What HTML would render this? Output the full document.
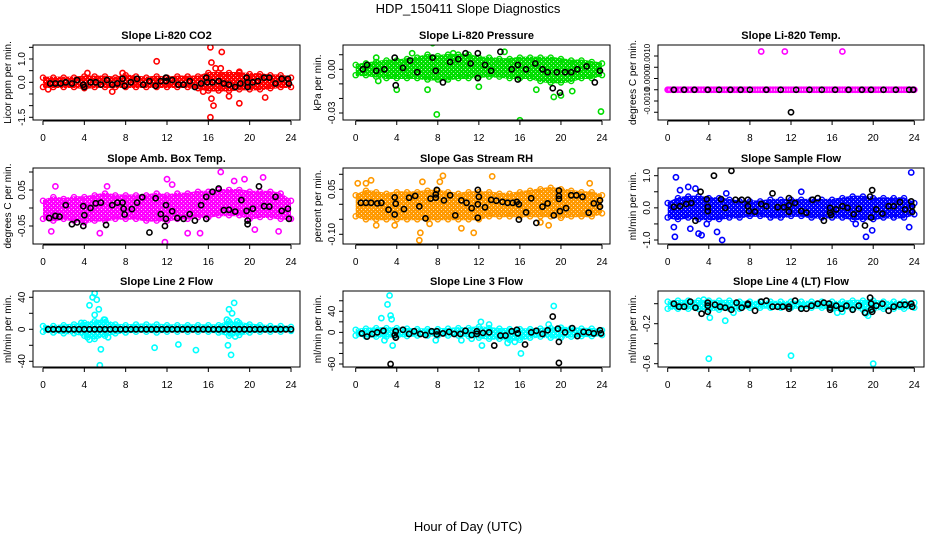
<!DOCTYPE html>
<html><head><meta charset="utf-8"><style>
body{margin:0;background:#fff;}
svg{display:block;font-family:"Liberation Sans",sans-serif;}
</style></head><body>
<svg id="chart" width="936" height="540" viewBox="0 0 936 540">
<defs id="defs"></defs>
<text x="468" y="13" text-anchor="middle" font-size="13">HDP_150411  Slope Diagnostics</text>
<text x="468" y="531" text-anchor="middle" font-size="13">Hour of Day (UTC)</text>
</svg>
<script>
// ---- data ----
const hours = [0,1,2,3,4,5,6,7,8,9,10,11,12,13,14,15,16,17,18,19,20,21,22,23,24];
const xTicks = [0,4,8,12,16,20,24];

const co2Lo = [-0.2,-0.2,-0.2,-0.2,-0.25,-0.2,-0.2,-0.2,-0.2,-0.2,-0.2,-0.2,-0.2,-0.2,-0.2,-0.25,-0.35,-0.35,-0.35,-0.3,-0.3,-0.3,-0.25,-0.2,-0.2];
const co2Hi = [0.2,0.2,0.2,0.2,0.25,0.25,0.25,0.2,0.3,0.25,0.2,0.25,0.2,0.25,0.25,0.25,0.4,0.4,0.4,0.4,0.35,0.35,0.3,0.3,0.2];
const co2Out = [[11,0.9],[16.2,1.5],[16.3,0.85],[17.3,1.3],[16.7,0.6],[17.2,0.6],[16.2,-1.5],[16.3,-0.7],[16.5,-1.0],[18,-0.6],[19,-0.9],[21.5,-0.65],[6.7,-0.4],[19,0.45],[0.5,-0.3],[7.7,0.4],[4.3,0.4],[15.5,-0.4]];
const co2Blk = [[0.7,-0.05],[1.2,-0.05],[1.7,-0.05],[2.2,0],[2.8,-0.05],[3.3,0.1],[3.9,-0.1],[4,-0.2],[4.6,0],[5.1,0],[5.6,-0.1],[6.2,0.1],[6.7,-0.1],[7.2,-0.05],[7.7,0.15],[7.9,-0.15],[8.5,0],[9.1,0.15],[9.7,-0.1],[10.3,0.05],[10.9,-0.15],[11.4,0.05],[11.9,0.05],[11.9,0.2],[12.5,0.1],[13.1,-0.1],[13.6,-0.1],[14.2,0.05],[14.7,-0.2],[15.3,-0.05],[15.8,0.2],[15.9,0],[16.4,0],[17,0.05],[17.5,-0.05],[18,-0.1],[18.6,-0.2],[19.1,-0.05],[19.7,0.2],[19.8,0],[19.8,-0.2],[20.3,0],[20.8,0.05],[21.4,0.2],[21.9,0.2],[22.5,-0.05],[23.1,0.15],[23.7,0.15],[23.8,-0.05]];

const prLo = [-0.004,-0.004,-0.005,-0.006,-0.006,-0.006,-0.006,-0.007,-0.007,-0.007,-0.006,-0.006,-0.005,-0.005,-0.005,-0.006,-0.006,-0.006,-0.008,-0.009,-0.009,-0.008,-0.006,-0.006,-0.004];
const prHi = [0.003,0.004,0.005,0.006,0.006,0.007,0.008,0.01,0.009,0.01,0.01,0.01,0.008,0.008,0.007,0.007,0.008,0.008,0.008,0.008,0.007,0.006,0.006,0.005,0.004];
const prOut = [[7.5,0.018],[21,0.02],[7.9,-0.031],[16,-0.035],[23.9,-0.029],[17.6,-0.014],[19.3,-0.019],[4,-0.014],[7,-0.014],[2.2,-0.008],[14.5,0.012],[9.5,0.011],[20,-0.018],[21.1,-0.015],[12,-0.012],[5.5,0.011],[2,0.008]];
const prBlk = [[0.7,0],[1.1,0.003],[2,-0.001],[2.8,0],[3.8,0.008],[3.9,-0.011],[4.6,0.001],[5.3,0.006],[6,-0.002],[7.5,0.008],[7.8,-0.001],[8.5,-0.009],[9.2,0.005],[10,0.007],[10.7,0.011],[11.2,0.004],[11.9,0.011],[11.9,-0.006],[12.6,0.003],[13.2,-0.001],[14.1,0.012],[15.2,0],[15.8,0.003],[15.8,-0.007],[16.6,0],[17.5,0.004],[18.2,0],[18.7,-0.002],[19.2,-0.013],[19.6,-0.002],[19.9,-0.016],[20.4,-0.002],[21,-0.002],[21.6,0],[22.5,0.002],[23.3,-0.009],[23.8,-0.001]];

const tLo = [-0.0005,-0.0005,-0.0005,-0.0005,-0.0005,-0.0005,-0.0005,-0.0005,-0.0005,-0.0005,-0.0005,-0.0005,-0.0005,-0.0005,-0.0005,-0.0005,-0.0005,-0.0005,-0.0005,-0.0005,-0.0005,-0.0005,-0.0005,-0.0005,-0.0005];
const tHi = tLo;
const tOut = [[9.1,0.0012],[11.4,0.0012],[13.3,0.0017],[17,0.0012],[0.1,-0.0005]];
const tBlk = [[0.6,-0.0005],[1.6,-0.0005],[2.6,-0.0005],[3.9,-0.0005],[5,-0.0005],[6.1,-0.0005],[7.1,-0.0005],[8,-0.0005],[9.6,-0.0005],[11,-0.0005],[12,-0.0015],[12.5,-0.0005],[13.8,-0.0005],[15,-0.0005],[16.3,-0.0005],[17.6,-0.0005],[18.9,-0.0005],[19.8,-0.0005],[21,-0.0005],[22.2,-0.0005],[23.5,-0.0005],[23.9,-0.0005]];

const abLo = [-0.03,-0.035,-0.03,-0.035,-0.04,-0.035,-0.035,-0.03,-0.03,-0.03,-0.035,-0.035,-0.035,-0.03,-0.03,-0.025,-0.025,-0.02,-0.02,-0.02,-0.03,-0.025,-0.025,-0.03,-0.03];
const abHi = [0.02,0.03,0.025,0.03,0.03,0.035,0.04,0.035,0.035,0.035,0.035,0.04,0.035,0.04,0.04,0.045,0.045,0.05,0.05,0.05,0.045,0.045,0.045,0.04,0.02];
const abOut = [[17.2,0.1],[21.3,0.085],[12,0.08],[11.8,-0.095],[0.8,-0.065],[5.5,-0.07],[14,-0.07],[15.2,-0.07],[22.8,-0.065],[6.2,0.06],[1.2,0.06],[19.5,0.08],[18.5,0.075],[12.5,0.065],[20.5,-0.06]];
const abBlk = [[0.6,-0.028],[1.2,-0.022],[1.6,-0.024],[2.2,0.008],[2.8,-0.045],[3.3,-0.04],[3.9,-0.05],[3.9,0.005],[4,-0.02],[4.6,0],[5.1,0.013],[5.6,0.015],[6.1,-0.047],[6.7,0.008],[7.2,0.015],[7.7,0.015],[7.8,-0.002],[7.9,-0.018],[8.6,-0.003],[9.1,0.015],[9.6,0.03],[10.3,-0.068],[10.9,0.027],[11.4,-0.017],[11.9,-0.03],[11.9,0.008],[11.8,-0.05],[12.5,-0.009],[13,-0.028],[13.6,-0.03],[14.2,-0.017],[14.7,-0.035],[15.3,0.008],[15.8,-0.03],[15.8,0.031],[16.4,0.045],[17,0.054],[17.5,-0.006],[18,-0.005],[18.6,-0.01],[19.2,0.022],[19.7,-0.008],[19.8,-0.035],[19.8,-0.045],[20.3,-0.002],[20.9,0.06],[21.4,0.005],[21.9,0.004],[22.5,0.031],[23.1,-0.008],[23.7,-0.002],[23.8,-0.03]];

const rhLo = [-0.04,-0.05,-0.05,-0.05,-0.05,-0.05,-0.05,-0.05,-0.05,-0.05,-0.05,-0.05,-0.05,-0.04,-0.04,-0.04,-0.04,-0.04,-0.04,-0.04,-0.045,-0.04,-0.04,-0.04,-0.03];
const rhHi = [0.03,0.045,0.04,0.035,0.04,0.04,0.04,0.045,0.045,0.04,0.035,0.04,0.04,0.04,0.035,0.035,0.04,0.045,0.05,0.055,0.05,0.045,0.04,0.04,0.03];
const rhOut = [[8.5,0.095],[13.3,0.093],[6.2,-0.12],[6.3,-0.095],[11.5,-0.095],[1,0.07],[1.5,0.08],[0.2,0.07],[2,-0.07],[3.8,-0.07],[8.2,0.075],[6.5,0.075],[18.8,-0.07],[18,-0.06],[10.3,-0.08],[22.8,0.07],[7.2,-0.065]];
const rhBlk = [[0.5,0.005],[1,0.005],[1.5,0.005],[2.1,0.003],[2.5,0.005],[3.2,-0.018],[3.8,0.023],[3.8,-0.034],[3.9,0.002],[4.7,-0.016],[5.2,0.022],[5.8,0.028],[6.2,-0.007],[6.8,-0.047],[7.3,0.019],[7.8,0.022],[7.9,0.048],[7.8,0.033],[8.6,0.013],[9.2,0.03],[9.7,-0.037],[10.3,0.013],[10.8,0.005],[11.3,-0.013],[11.9,0.048],[11.9,-0.045],[11.9,0],[12,0.025],[12.6,-0.01],[13.2,0.015],[13.7,0.012],[14.3,0.008],[14.8,0.005],[15.3,0.005],[15.7,0.008],[15.9,0],[15.9,-0.051],[16.6,-0.027],[17.1,0.02],[17.6,-0.062],[18.2,-0.008],[18.7,0.003],[19.3,-0.037],[19.8,0.028],[19.8,0.046],[19.9,-0.023],[19.8,0.018],[20.5,-0.013],[21,0.03],[21.5,0.03],[22.1,0.025],[22.7,-0.028],[23.2,0.003],[23.8,-0.008],[23.8,0.013]];

const sfLo = [-0.3,-0.35,-0.3,-0.35,-0.35,-0.35,-0.3,-0.3,-0.25,-0.25,-0.3,-0.3,-0.25,-0.25,-0.3,-0.3,-0.3,-0.3,-0.35,-0.35,-0.35,-0.3,-0.3,-0.3,-0.2];
const sfHi = [0.15,0.3,0.35,0.35,0.3,0.3,0.25,0.2,0.2,0.2,0.25,0.25,0.25,0.25,0.25,0.25,0.25,0.3,0.35,0.35,0.3,0.3,0.3,0.3,0.15];
const sfOut = [[0.8,0.95],[0.7,-0.9],[5.3,-1.0],[23.7,1.1],[19.3,-0.9],[19.9,-0.7],[2,0.65],[13,0.5],[0.6,-0.6],[3.3,-0.85],[1.2,0.55],[3,-0.8],[2.2,-0.65],[4.8,-0.75],[5.7,0.45],[23.5,-0.6],[18.3,-0.5],[2.7,0.6],[3.8,-0.5]];
const sfBlk = [[0.6,0.03],[1.2,0.05],[1.8,0.12],[2.3,0.15],[2.7,-0.4],[3.2,0.5],[3.8,0.27],[3.9,-0.1],[3.9,0.03],[4.5,1.0],[5.2,0.27],[5.6,0.0],[6.2,1.15],[6.6,0.25],[7.2,0.25],[7.8,0.25],[7.8,0.05],[7.9,-0.1],[8.5,-0.12],[9.1,0.12],[9.6,0.05],[10.2,0.45],[10.7,0.02],[11.3,0.02],[11.8,0.3],[11.8,0.08],[11.8,-0.12],[12.4,0.15],[13,-0.1],[13.5,-0.15],[14.1,0.25],[14.6,0.3],[15.2,-0.4],[15.8,0],[15.8,-0.15],[15.9,-0.22],[16.4,-0.05],[17,0.05],[17.5,0],[18.1,-0.2],[18.6,-0.03],[19.2,-0.55],[19.7,0.35],[19.8,-0.3],[19.9,0.55],[20.3,-0.05],[20.9,-0.18],[21.5,0.05],[22,0.05],[22.6,0.18],[23.1,-0.05],[23.7,0.2],[23.8,0.05],[23.8,-0.12]];

const l2Lo = [-3,-4,-5,-5,-8,-12,-8,-5,-4,-3,-3,-4,-3,-3,-3,-3,-3,-4,-8,-7,-4,-3,-3,-3,-2];
const l2Hi = [4,4,5,6,8,10,12,6,5,6,6,6,5,5,5,5,5,5,10,8,6,5,4,4,3];
const l2Out = [[4.8,40],[5,45],[4.5,30],[5.2,37],[5.4,25],[5,18],[4.5,-13],[5.6,-25],[5.5,-45],[5.9,12],[18.5,33],[18,25],[18.3,20],[18.8,10],[17.9,-20],[18.2,-32],[10.8,-23],[13.1,-19],[14.8,-26],[6.3,-10],[4.3,-10],[3.7,8],[17.8,12],[18.6,-9]];
const l2Blk = [[0.5,0],[1,0],[1.5,0],[2,0],[2.5,0],[3,0],[3.5,0],[4,0],[4.5,0],[5,0],[5.5,0],[6,0],[6.5,0],[7,0],[7.5,0],[8,0],[8.5,0],[9,0],[9.5,0],[10,0],[10.5,0],[11,0],[11.5,0],[12,0],[12.5,0],[13,0],[13.5,0],[14,0],[14.5,0],[15,0],[15.5,0],[16,0],[16.5,0],[17,0],[17.5,0],[18,0],[18.5,0],[19,0],[19.5,0],[20,0],[20.5,0],[21,0],[21.5,0],[22,0],[22.5,0],[23,0],[23.5,0],[24,0]];

const l3Lo = [-6,-8,-8,-8,-8,-7,-6,-6,-6,-6,-6,-7,-10,-12,-12,-14,-14,-10,-8,-10,-10,-8,-7,-7,-5];
const l3Hi = [5,7,8,8,8,7,6,6,6,7,8,8,10,8,7,6,6,6,7,8,9,8,7,7,4];
const l3Out = [[3.3,70],[3.1,53],[3.4,32],[2.5,27],[3.5,25],[3.6,-25],[2.8,-15],[19.3,50],[18.8,15],[16.1,-40],[12.3,-25],[12.2,20],[13,15],[7.8,-15],[10.3,-15],[11.3,-12],[14.8,-20],[15.5,-18]];
const l3Blk = [[0.6,-2],[1.1,-8],[1.6,-3],[2.1,0],[2.7,3],[3.4,-60],[3.8,-5],[3.9,2],[3.9,-10],[4.6,5],[5.2,-3],[5.7,2],[6.3,-3],[6.8,-5],[7.4,2],[7.9,2],[7.9,-4],[8.5,-2],[9.1,1],[9.6,-3],[10.2,-3],[10.7,3],[11.3,-5],[11.8,2],[11.8,-3],[12.4,-1],[13,0],[13.5,-25],[14.1,-6],[14.6,-6],[15.2,2],[15.7,5],[15.8,-2],[16.5,-23],[17.1,0],[17.6,3],[18.2,-3],[18.7,4],[19.2,30],[19.7,7],[19.8,-18],[19.8,-58],[20.4,0],[21.1,8],[21.6,-7],[22.2,1],[22.7,0],[23.2,-2],[23.8,4],[23.9,-2]];

const l4Lo = [-0.05,-0.05,-0.05,-0.05,-0.06,-0.06,-0.05,-0.05,-0.04,-0.04,-0.04,-0.04,-0.04,-0.04,-0.04,-0.04,-0.05,-0.05,-0.05,-0.06,-0.06,-0.05,-0.05,-0.05,-0.04];
const l4Hi = [0.02,0.03,0.03,0.03,0.03,0.03,0.03,0.02,0.02,0.02,0.02,0.02,0.02,0.02,0.02,0.02,0.02,0.02,0.03,0.03,0.03,0.02,0.02,0.02,0.01];
const l4Out = [[4,-0.55],[12,-0.52],[20,-0.6],[4.1,-0.14],[5.6,-0.17],[3.5,0.04],[19.5,-0.12],[16.5,-0.09],[17,-0.08],[6.4,-0.09],[19.3,-0.1]];
const l4Blk = [[0.6,0],[1.1,-0.03],[1.6,-0.03],[2.2,0.02],[2.7,-0.04],[3.3,-0.1],[3.9,-0.08],[3.9,-0.02],[3.9,0.01],[4.6,-0.01],[5.1,-0.03],[5.6,-0.04],[6.2,-0.06],[6.7,0.01],[7.2,-0.04],[7.8,0],[7.8,-0.01],[8.5,-0.07],[9.1,0.02],[9.6,0.03],[10.2,-0.03],[10.7,-0.03],[11.2,-0.03],[11.8,-0.03],[11.8,-0.05],[12.4,0.03],[13,-0.05],[13.5,-0.05],[14,-0.02],[14.6,0],[15.2,0.01],[15.7,0],[15.8,-0.04],[15.8,-0.06],[16.4,-0.02],[16.9,-0.05],[17.4,-0.02],[18,-0.06],[18.6,-0.02],[19.2,-0.09],[19.7,0.06],[19.8,0],[19.9,-0.08],[19.8,-0.06],[20.3,-0.02],[20.9,0],[21.5,-0.07],[22,-0.03],[22.6,-0.01],[23.1,-0.01],[23.7,0],[23.8,-0.03]];

// ---- panel layout (pixel geometry only) ----
const panels = [
 {name:'co2',title:'Slope Li-820 CO2',ylab:'Licor ppm per min.',col:'#ff0000',L:33,R:300,T:45,B:120,x0:43,x24:291,ya:1.0,ypa:59,yb:-1.5,ypb:117.3,ticks:[1.5,1,0.5,0,-0.5,-1,-1.5],labs:[[1,'1.0'],[0,'0.0'],[-1.5,'-1.5']],lo:co2Lo,hi:co2Hi,out:co2Out,blk:co2Blk},
 {name:'pressure',title:'Slope Li-820 Pressure',ylab:'kPa per min.',col:'#00dd00',L:343,R:610,T:45,B:120,x0:355.7,x24:602,ya:0,ypa:69.3,yb:-0.03,ypb:113,ticks:[0.01,0,-0.01,-0.02,-0.03],labs:[[0,'0.00'],[-0.03,'-0.03']],lo:prLo,hi:prHi,out:prOut,blk:prBlk},
 {name:'temp',title:'Slope Li-820 Temp.',ylab:'degrees C per min.',col:'#ff00ff',L:658,R:924,T:45,B:120,x0:667.7,x24:914.3,ya:0.001,ypa:56,yb:-0.001,ypb:101,ticks:[0.001,0.0005,0,-0.0005,-0.001,-0.0015],labs:[[0.001,'0.0010'],[0,'0.0000'],[-0.001,'-0.0010']],lo:tLo,hi:tHi,out:tOut,blk:tBlk},
 {name:'amb-box-temp',title:'Slope Amb. Box Temp.',ylab:'degrees C per min.',col:'#ff00ff',L:33,R:300,T:168,B:244,x0:43,x24:291,ya:0.05,ypa:190,yb:-0.05,ypb:226,ticks:[0.1,0.05,0,-0.05],labs:[[0.05,'0.05'],[-0.05,'-0.05']],lo:abLo,hi:abHi,out:abOut,blk:abBlk},
 {name:'gas-stream-rh',title:'Slope Gas Stream RH',ylab:'percent per min.',col:'#ff9900',L:343,R:610,T:168,B:244,x0:355.7,x24:602,ya:0.05,ypa:189.3,yb:-0.1,ypb:234.3,ticks:[0.1,0.05,0,-0.05,-0.1],labs:[[0.05,'0.05'],[-0.1,'-0.10']],lo:rhLo,hi:rhHi,out:rhOut,blk:rhBlk},
 {name:'sample-flow',title:'Slope Sample Flow',ylab:'ml/min per min.',col:'#0000ff',L:658,R:924,T:168,B:244,x0:667.7,x24:914.3,ya:1,ypa:175.7,yb:-1,ypb:240,ticks:[1,0.5,0,-0.5,-1],labs:[[1,'1.0'],[0,'0.0'],[-1,'-1.0']],lo:sfLo,hi:sfHi,out:sfOut,blk:sfBlk},
 {name:'line2-flow',title:'Slope Line 2 Flow',ylab:'ml/min per min.',col:'#00ffff',L:33,R:300,T:291,B:367,x0:43,x24:291,ya:40,ypa:297.3,yb:-40,ypb:361.3,ticks:[40,20,0,-20,-40],labs:[[40,'40'],[0,'0'],[-40,'-40']],lo:l2Lo,hi:l2Hi,out:l2Out,blk:l2Blk},
 {name:'line3-flow',title:'Slope Line 3 Flow',ylab:'ml/min per min.',col:'#00ffff',L:343,R:610,T:291,B:367,x0:355.7,x24:602,ya:40,ypa:311.3,yb:-60,ypb:364,ticks:[60,40,20,0,-20,-40,-60],labs:[[40,'40'],[0,'0'],[-60,'-60']],lo:l3Lo,hi:l3Hi,out:l3Out,blk:l3Blk},
 {name:'line4-flow',title:'Slope Line 4 (LT) Flow',ylab:'ml/min per min.',col:'#00ffff',L:658,R:924,T:291,B:367,x0:667.7,x24:914.3,ya:-0.2,ypa:323.7,yb:-0.6,ypb:363.7,ticks:[0,-0.2,-0.4,-0.6],labs:[[-0.2,'-0.2'],[-0.6,'-0.6']],lo:l4Lo,hi:l4Hi,out:l4Out,blk:l4Blk}
];

const svg = document.getElementById('chart');
const defs = document.getElementById('defs');
const NS = 'http://www.w3.org/2000/svg';
function mk(tag, attrs, parent){
  const e = document.createElementNS(NS, tag);
  for (const k in attrs) e.setAttribute(k, attrs[k]);
  (parent||svg).appendChild(e);
  return e;
}
function circ(g, x, y, col, sw){
  const c = mk('circle', {cx:x, cy:y, r:2.6, fill:'none', stroke:col, 'stroke-width':sw}, g);
  
  
}

panels.forEach(p => {
  const g = mk('g', {});
  
  
  const xs = v => p.x0 + (v/24)*(p.x24 - p.x0);
  const ys = v => p.ypa + (v - p.ya)*(p.ypb - p.ypa)/(p.yb - p.ya);
  // speckle pattern simulating overplotted open circles
  const pid = 'pat-' + p.name;
  const pat = mk('pattern', {id:pid, width:4, height:4, patternUnits:'userSpaceOnUse'}, defs);
  mk('rect', {x:0, y:0, width:4, height:4, fill:p.col}, pat);
  mk('rect', {x:1, y:1, width:1, height:1, fill:'#fff', 'fill-opacity':0.8}, pat);
  mk('rect', {x:3, y:3, width:1, height:1, fill:'#fff', 'fill-opacity':0.5}, pat);
  const clip = 'clip-' + p.name;
  const cp = mk('clipPath', {id:clip}, g);
  mk('rect', {x:p.L, y:p.T, width:p.R-p.L, height:p.B-p.T}, cp);
  const dg = mk('g', {'clip-path':'url(#'+clip+')'}, g);
  
  
  if (p.name !== 'temp') {
    let pts = [];
    hours.forEach((h,i) => pts.push(xs(h)+','+(ys(p.hi[i])-1)));
    for (let i=hours.length-1;i>=0;i--) pts.push(xs(hours[i])+','+(ys(p.lo[i])+1));
    const band = mk('polygon', {points:pts.join(' '), fill:'url(#'+pid+')', stroke:'none'}, dg);
    
    
    hours.forEach((h,i) => {
      circ(dg, xs(h), ys(p.hi[i]), p.col, 1.4);
      circ(dg, xs(h), ys(p.lo[i]), p.col, 1.4);
    });
  } else {
    for (let h=0; h<=24; h+=0.25) circ(dg, xs(h), ys(p.lo[Math.round(h)]), p.col, 1.6);
  }
  p.out.forEach(d => circ(dg, xs(d[0]), ys(d[1]), p.col, 1.6));
  p.blk.forEach(d => circ(dg, xs(d[0]), ys(d[1]), '#000', 1.6));
  const fr = mk('rect', {x:p.L, y:p.T, width:p.R-p.L, height:p.B-p.T, fill:'none', stroke:'#000', 'stroke-width':1}, g);
  
  
  const t = mk('text', {x:(p.L+p.R)/2, y:p.T-6, 'text-anchor':'middle', 'font-size':11, 'font-weight':'bold'}, g);
  t.textContent = p.title;
  
  
  const xa = mk('g', {}, g);
  
  
  mk('line', {x1:xs(0), x2:xs(24), y1:p.B+1, y2:p.B+1, stroke:'#000'}, xa);
  xTicks.forEach(v => {
    mk('line', {x1:xs(v), x2:xs(v), y1:p.B+1, y2:p.B+5, stroke:'#000'}, xa);
    const tl = mk('text', {x:xs(v), y:p.B+21, 'text-anchor':'middle', 'font-size':10}, xa);
    tl.textContent = v;
    
    
  });
  const ya = mk('g', {}, g);
  
  
  const tmin = Math.min(...p.ticks), tmax = Math.max(...p.ticks);
  mk('line', {x1:p.L, x2:p.L, y1:ys(tmax), y2:ys(tmin), stroke:'#000'}, ya);
  p.ticks.forEach(v => mk('line', {x1:p.L-4, x2:p.L, y1:ys(v), y2:ys(v), stroke:'#000'}, ya));
  const fs = p.name === 'temp' ? 8 : 10;
  p.labs.forEach(l => {
    const tx = p.L-8, ty = ys(l[0]);
    const tl = mk('text', {x:tx, y:ty, 'text-anchor':'middle', 'font-size':fs, transform:'rotate(-90 '+tx+' '+ty+')'}, ya);
    tl.textContent = l[1];
    
    
  });
  const yx = p.L-22, yy = (p.T+p.B)/2;
  const yl = mk('text', {x:yx, y:yy, 'text-anchor':'middle', 'font-size':10, transform:'rotate(-90 '+yx+' '+yy+')'}, g);
  yl.textContent = p.ylab;
  
  
});
</script>
</body></html>
